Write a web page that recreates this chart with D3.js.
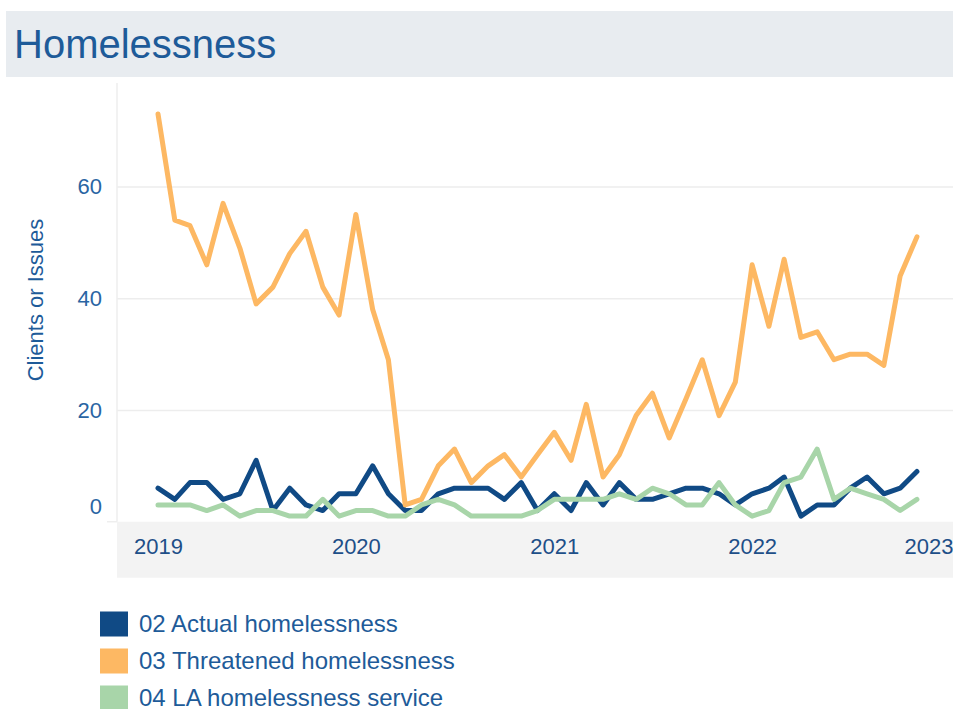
<!DOCTYPE html>
<html>
<head>
<meta charset="utf-8">
<script src="https://cdn.jsdelivr.net/npm/d3@7"></script>
<style>
  body { margin: 0; background: #fff; }
  svg { display: block; font-family: "Liberation Sans", Arial, sans-serif; }
</style>
</head>
<body>
<svg width="953" height="709"></svg>
<script>
// Homelessness line chart, monthly counts Jan 2019 - Nov 2022

var months = [
  "2019-01","2019-02","2019-03","2019-04","2019-05","2019-06","2019-07","2019-08","2019-09","2019-10","2019-11","2019-12",
  "2020-01","2020-02","2020-03","2020-04","2020-05","2020-06","2020-07","2020-08","2020-09","2020-10","2020-11","2020-12",
  "2021-01","2021-02","2021-03","2021-04","2021-05","2021-06","2021-07","2021-08","2021-09","2021-10","2021-11","2021-12",
  "2022-01","2022-02","2022-03","2022-04","2022-05","2022-06","2022-07","2022-08","2022-09","2022-10","2022-11"
];

var actual = [6,4,7,7,4,5,11,2,6,3,2,5, 5,10,5,2,2,5,6,6,6,4,7,2, 5,2,7,3,7,4,4,5,6,6,5,3, 5,6,8,1,3,3,6,8,5,6,9];
var threatened = [73,54,53,46,57,49,39,42,48,52,42,37, 55,38,29,3,4,10,13,7,10,12,8,12, 16,11,21,8,12,19,23,15,22,29,19,25, 46,35,47,33,34,29,30,30,28,44,51];
var laService = [3,3,3,2,3,1,2,2,1,1,4,1, 2,2,1,1,3,4,3,1,1,1,1,2, 4,4,4,4,5,4,6,5,3,3,7,3, 1,2,7,8,13,4,6,5,4,2,4];

var seriesNames = ["02 Actual homelessness", "03 Threatened homelessness", "04 LA homelessness service"];
var seriesColors = ["#104a85", "#fdb863", "#a8d5a9"];
var yTicks = [0, 20, 40, 60];
var yearTicks = ["2019", "2020", "2021", "2022", "2023"];

var svg = d3.select("svg"),
  width = +svg.attr("width"),
  height = +svg.attr("height"),
  plotLeft = 117,
  plotRight = 953,
  plotTop = 83,
  plotBottom = 521.7,
  textBlue = "#1e5b99",
  parseMonth = d3.timeParse("%Y-%m"),
  parseYear = d3.timeParse("%Y");

// title band
svg.append("rect")
  .attr("x", 6).attr("y", 11)
  .attr("width", width - 6).attr("height", 66)
  .attr("fill", "#e8ecf0");

svg.append("text")
  .attr("x", 14).attr("y", 58)
  .attr("fill", textBlue)
  .style("font-size", "40px")
  .text("Homelessness");

// scales
var x = d3.scaleTime()
  .domain([parseYear("2019"), parseYear("2023")])
  .range([158, 950]);

var y = d3.scaleLinear()
  .domain([0, 60])
  .range([plotBottom, 186.6]);

// x axis band
svg.append("rect")
  .attr("x", plotLeft).attr("y", plotBottom)
  .attr("width", plotRight - plotLeft).attr("height", 56)
  .attr("fill", "#f3f3f3");

// grid lines
svg.append("g")
  .attr("transform", "translate(" + plotLeft + ",0)")
  .call(d3.axisLeft(y).tickValues(yTicks.slice(1)).tickSize(-(plotRight - plotLeft)).tickFormat(""))
  .call(function (g) {
    g.select(".domain").remove();
    g.selectAll(".tick line").attr("stroke", "#ededed").attr("stroke-width", 1.5);
  });

// y axis line
svg.append("line")
  .attr("x1", plotLeft).attr("x2", plotLeft)
  .attr("y1", plotTop).attr("y2", plotBottom)
  .attr("stroke", "#eeeeee").attr("stroke-width", 1.5);

svg.append("line")
  .attr("x1", 107).attr("x2", plotLeft)
  .attr("y1", plotBottom).attr("y2", plotBottom)
  .attr("stroke", "#eeeeee").attr("stroke-width", 1.5);

// y axis labels
svg.append("g")
  .attr("transform", "translate(" + plotLeft + ",0)")
  .call(d3.axisLeft(y).tickValues(yTicks).tickSize(0).tickPadding(15))
  .call(function (g) {
    g.select(".domain").remove();
    g.selectAll(".tick text")
      .attr("fill", "#2a65a3")
      .style("font-size", "22px")
      .style("font-family", "'Liberation Sans', Arial, sans-serif")
      .attr("y", function (d) { return d === 0 ? -15 : 0; });
  });

svg.append("text")
  .attr("transform", "translate(43,300) rotate(-90)")
  .attr("text-anchor", "middle")
  .attr("fill", textBlue)
  .style("font-size", "22px")
  .text("Clients or Issues");

// x axis labels
svg.append("g")
  .attr("transform", "translate(0," + plotBottom + ")")
  .call(d3.axisBottom(x).tickValues(yearTicks.map(parseYear)).tickFormat(d3.timeFormat("%Y")).tickSize(0).tickPadding(17))
  .call(function (g) {
    g.select(".domain").remove();
    g.selectAll(".tick text")
      .attr("fill", "#1e4f88")
      .style("font-size", "22px")
      .style("font-family", "'Liberation Sans', Arial, sans-serif");
    // last label pulled in so it stays on the page
    g.selectAll(".tick:last-of-type text")
      .attr("text-anchor", "end")
      .attr("dx", "3px");
  });

// lines
var dates = months.map(parseMonth);
var allSeries = [actual, threatened, laService];

var line = d3.line()
  .x(function (d, i) { return x(dates[i]); })
  .y(function (d) { return y(d); });

svg.append("g")
  .selectAll("path")
  .data(allSeries)
  .enter()
  .append("path")
  .attr("d", line)
  .attr("fill", "none")
  .attr("stroke", function (d, i) { return seriesColors[i]; })
  .attr("stroke-width", 5)
  .attr("stroke-linejoin", "round")
  .attr("stroke-linecap", "round");

// legend
var legend = svg.append("g")
  .selectAll("g")
  .data(seriesNames)
  .enter()
  .append("g")
  .attr("transform", function (d, i) { return "translate(100," + (624 + i * 37) + ")"; });

legend.append("rect")
  .attr("x", 0).attr("y", -12.5)
  .attr("width", 28).attr("height", 25)
  .attr("fill", function (d, i) { return seriesColors[i]; });

legend.append("text")
  .attr("x", 39).attr("y", 8)
  .attr("fill", textBlue)
  .style("font-size", "24px")
  .text(function (d) { return d; });
</script>
</body>
</html>
